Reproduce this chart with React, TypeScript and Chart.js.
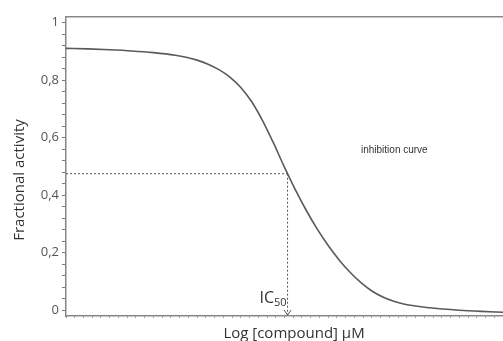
import React, { useEffect, useRef } from "react";
import { Chart, registerables } from "chart.js";

Chart.register(...registerables);

// Data
const logConc = [-5, -4.5, -4, -3.5, -3, -2.5, -2.25, -2, -1.75, -1.5, -1.25, -1, -0.75, -0.5, -0.25, 0, 0.25, 0.5, 0.75, 1, 1.25, 1.5, 1.75, 2, 2.25, 2.5, 2.75, 3, 3.5, 4, 4.5, 5];
const activity = [0.911, 0.909, 0.906, 0.902, 0.896, 0.887, 0.88, 0.87, 0.856, 0.837, 0.811, 0.775, 0.725, 0.659, 0.581, 0.497, 0.419, 0.347, 0.282, 0.225, 0.175, 0.132, 0.096, 0.067, 0.046, 0.031, 0.021, 0.015, 0.006, 0.0, -0.004, -0.007];

const yMajorTicks = [0, 0.2, 0.4, 0.6, 0.8, 1];
const yTickLabels = ["0", "0,2", "0,4", "0,6", "0,8", "1"];
const yMinorStep = 0.04;
const xMinorStep = 0.2;

const ic50X = 0.07;
const ic50Y = 0.475;
const annotationLabel = "inhibition curve";
const annotationX = 1.75;
const annotationY = 0.556;
const xTitle = "Log [compound] µM";
const yTitle = "Fractional activity";

const FONT = "'Open Sans', 'Liberation Sans', sans-serif";

const overlayPlugin = {
  id: "overlay",
  afterDatasetsDraw(chart: any) {
    const { ctx, scales, chartArea } = chart;
    const xs = scales.x;
    const ys = scales.y;
    const px = xs.getPixelForValue(ic50X);
    const py = ys.getPixelForValue(ic50Y);
    ctx.save();
    // dashed guide lines
    ctx.strokeStyle = "#555";
    ctx.lineWidth = 1;
    ctx.setLineDash([2, 2]);
    ctx.beginPath();
    ctx.moveTo(chartArea.left, py);
    ctx.lineTo(px, py);
    ctx.moveTo(px, py);
    ctx.lineTo(px, chartArea.bottom - 1);
    ctx.stroke();
    ctx.setLineDash([]);
    // arrow head
    ctx.beginPath();
    ctx.moveTo(px - 3.5, chartArea.bottom - 6);
    ctx.lineTo(px, chartArea.bottom - 1);
    ctx.lineTo(px + 3.5, chartArea.bottom - 6);
    ctx.stroke();
    // IC50 label
    ctx.fillStyle = "#333";
    ctx.textBaseline = "alphabetic";
    const subFont = `11px ${FONT}`;
    ctx.font = subFont;
    const subW = ctx.measureText("50").width;
    ctx.textAlign = "left";
    ctx.fillText("50", px - subW - 1, chartArea.bottom - 10);
    ctx.font = `16px ${FONT}`;
    ctx.textAlign = "right";
    ctx.fillText("IC", px - subW - 1, chartArea.bottom - 13);
    // inhibition curve annotation
    ctx.font = `10px 'Liberation Sans', Arial, sans-serif`;
    ctx.fillStyle = "#333";
    ctx.textAlign = "left";
    ctx.textBaseline = "middle";
    ctx.fillText(annotationLabel, xs.getPixelForValue(annotationX), ys.getPixelForValue(annotationY));
    // axis titles
    ctx.font = `15px ${FONT}`;
    ctx.fillStyle = "#333";
    ctx.textAlign = "center";
    ctx.textBaseline = "alphabetic";
    ctx.fillText(xTitle, 294, 338);
    ctx.translate(24, 180);
    ctx.rotate(-Math.PI / 2);
    ctx.fillText(yTitle, 0, 0);
    ctx.restore();
  },
};

export default function App() {
  const ref = useRef<HTMLCanvasElement | null>(null);
  useEffect(() => {
    if (!ref.current) return;
    const xMin = logConc[0];
    const xMax = logConc[logConc.length - 1];
    const yTicks: number[] = [];
    for (let v = 0; v <= 1.0001; v += yMinorStep) yTicks.push(Math.round(v * 100) / 100);
    const xTicks: number[] = [];
    for (let v = xMin; v <= xMax + 1e-6; v += xMinorStep) xTicks.push(Math.round(v * 100) / 100);

    const chart = new Chart(ref.current, {
      type: "line",
      data: {
        datasets: [
          {
            data: logConc.map((x, i) => ({ x, y: activity[i] })),
            borderColor: "#5a5a5a",
            borderWidth: 1.6,
            pointRadius: 0,
            cubicInterpolationMode: "monotone",
            fill: false,
          },
        ],
      },
      options: {
        animation: false,
        responsive: false,
        maintainAspectRatio: false,
        layout: { padding: { top: 17, right: 0, left: 0, bottom: 0 } },
        plugins: { legend: { display: false }, tooltip: { enabled: false } },
        scales: {
          x: {
            type: "linear",
            min: xMin,
            max: xMax,
            afterBuildTicks: (s: any) => {
              s.ticks = xTicks.map((v) => ({ value: v }));
            },
            afterFit: (s: any) => {
              s.height = 25;
            },
            ticks: { callback: () => "", padding: 0, font: { size: 1 } },
            grid: { drawOnChartArea: false, drawTicks: true, tickLength: 2, color: "#999" },
            border: { display: true, color: "#888", width: 1.5 },
          },
          xTop: {
            type: "linear",
            position: "top",
            min: xMin,
            max: xMax,
            ticks: { display: false },
            grid: { display: false, drawTicks: false },
            border: { display: true, color: "#888", width: 1.5 },
            afterFit: (s: any) => {
              s.height = 0;
            },
          },
          y: {
            type: "linear",
            min: -0.02,
            max: 1.02,
            afterBuildTicks: (s: any) => {
              s.ticks = yTicks.map((v) => ({ value: v }));
            },
            afterFit: (s: any) => {
              s.width = 66;
            },
            ticks: {
              padding: 3,
              color: "#555",
              font: { family: FONT, size: 13 },
              autoSkip: false,
              callback: (value: any) => {
                const idx = yMajorTicks.findIndex((m) => Math.abs(m - Number(value)) < 1e-6);
                return idx >= 0 ? yTickLabels[idx] : "";
              },
            },
            grid: { drawOnChartArea: false, drawTicks: true, tickLength: 4, color: "#777" },
            border: { display: true, color: "#888", width: 1.5 },
          },
        },
      },
      plugins: [overlayPlugin],
    });
    return () => chart.destroy();
  }, []);
  return (
    <div style={{ position: "fixed", left: 0, top: 0, width: 503, height: 341, background: "#fff" }}>
      <canvas ref={ref} width={503} height={341} style={{ width: 503, height: 341, display: "block" }} />
    </div>
  );
}
